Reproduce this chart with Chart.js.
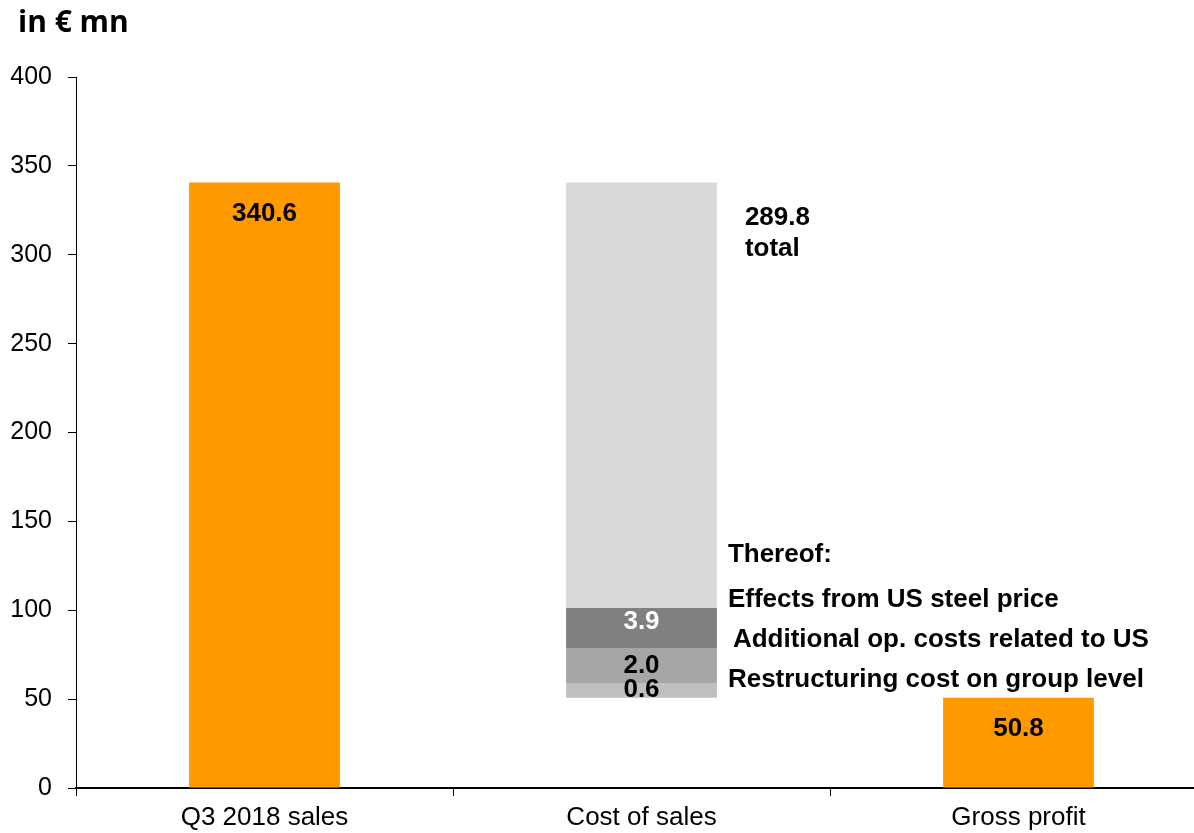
<!DOCTYPE html>
<html>
<head>
<meta charset="utf-8">
<script src="https://cdn.jsdelivr.net/npm/chart.js@4"></script>
<style>
  html, body { margin:0; padding:0; background:#fff; overflow:hidden; }
  #wrap { position:relative; width:1194px; height:833px; overflow:hidden; }
  #unit { position:absolute; left:18px; top:0px; font:bold 30px "Open Sans", sans-serif; color:#000; }
  canvas { position:absolute; left:0; top:0; }
</style>
</head>
<body>
<div id="wrap">
  <canvas id="chart" width="1207" height="833"></canvas>
  <div id="unit">in € mn</div>
</div>
<script>
const categories = ["Q3 2018 sales", "Cost of sales", "Gross profit"];
const yTicks = [0, 50, 100, 150, 200, 250, 300, 350, 400];

// orange bars: sales and gross profit
const orangeBars = [[0, 340.6], null, [0, 50.8]];
const orangeLabels = ["340.6", "", "50.8"];

// cost of sales bridge, bounds as drawn in the picture (bottom to top)
const costBounds = [50.8, 59.1, 78.8, 101.3, 340.6];
const costLabels = ["0.6", "2.0", "3.9", ""];

// notes next to the cost bar: [text, y value, x offset from bar edge]
const notes = [
  ["289.8", 320.7, 28],
  ["total", 303.2, 28],
  ["Thereof:", 131, 11],
  ["Effects from US steel price", 105.8, 11],
  ["Additional op. costs related to US", 83.3, 16],
  ["Restructuring cost on group level", 60.8, 11]
];

const FONT = '"Liberation Sans", Arial, sans-serif';
const ORANGE = "#ff9900";
const costColors = ["#bfbfbf", "#a6a6a6", "#808080", "#d9d9d9"];
const costTextColors = ["#000", "#000", "#fff", "#000"];
const costTextShift = [0, 0, -6, 0];

const datasets = [{
  data: orangeBars,
  backgroundColor: ORANGE,
  labels: orangeLabels,
  labelPos: "top",
  labelColor: "#000",
  labelShift: 0
}];
costLabels.forEach((lbl, i) => {
  datasets.push({
    data: [null, [costBounds[i], costBounds[i + 1]], null],
    backgroundColor: costColors[i],
    labels: ["", lbl, ""],
    labelPos: "center",
    labelColor: costTextColors[i],
    labelShift: costTextShift[i]
  });
});

/* ---------- labels plugin ---------- */
const labelPlugin = {
  id: "labels",
  afterDatasetsDraw(chart) {
    const c = chart.ctx;
    c.save();
    c.font = "bold 26px " + FONT;
    c.textAlign = "center";
    c.textBaseline = "middle";
    chart.data.datasets.forEach((ds, di) => {
      chart.getDatasetMeta(di).data.forEach((bar, i) => {
        const txt = ds.labels[i];
        if (!txt) return;
        const { x, y, base } = bar.getProps(["x", "y", "base"], true);
        const top = Math.min(y, base), bot = Math.max(y, base);
        const ty = ds.labelPos === "top" ? top + 31 : (top + bot) / 2;
        c.fillStyle = ds.labelColor;
        c.fillText(txt, x, ty + ds.labelShift);
      });
    });

    // notes
    const costBar = chart.getDatasetMeta(1).data[1];
    const right = costBar.x + costBar.width / 2;
    const ys = chart.scales.y;
    c.textAlign = "left";
    c.fillStyle = "#000";
    notes.forEach(([txt, v, dx]) => c.fillText(txt, right + dx, ys.getPixelForValue(v)));
    c.restore();
  }
};

new Chart(document.getElementById("chart"), {
  type: "bar",
  data: { labels: categories, datasets },
  plugins: [labelPlugin],
  options: {
    responsive: false,
    animation: false,
    layout: { padding: { top: 77, right: 0, bottom: 0, left: 0 } },
    datasets: { bar: { grouped: false, barPercentage: 0.4, categoryPercentage: 1, borderWidth: 0 } },
    plugins: { legend: { display: false }, tooltip: { enabled: false } },
    scales: {
      x: {
        offset: true,
        border: { display: true, color: "#000", width: 2 },
        grid: { display: true, offset: true, drawOnChartArea: false, drawTicks: true, tickLength: 8, color: "#000", lineWidth: 1 },
        ticks: { color: "#000", font: { family: FONT, size: 26 }, padding: 6, maxRotation: 0 },
        afterFit: s => { s.height = 45; }
      },
      y: {
        min: 0,
        max: 400,
        afterBuildTicks: s => { s.ticks = yTicks.map(v => ({ value: v })); },
        border: { display: true, color: "#000", width: 1 },
        grid: { drawOnChartArea: false, drawTicks: true, tickLength: 8, color: "#000" },
        ticks: { color: "#000", font: { family: FONT, size: 25 }, padding: 16 },
        afterFit: s => { s.width = 76; }
      }
    }
  }
});
</script>
</body>
</html>
